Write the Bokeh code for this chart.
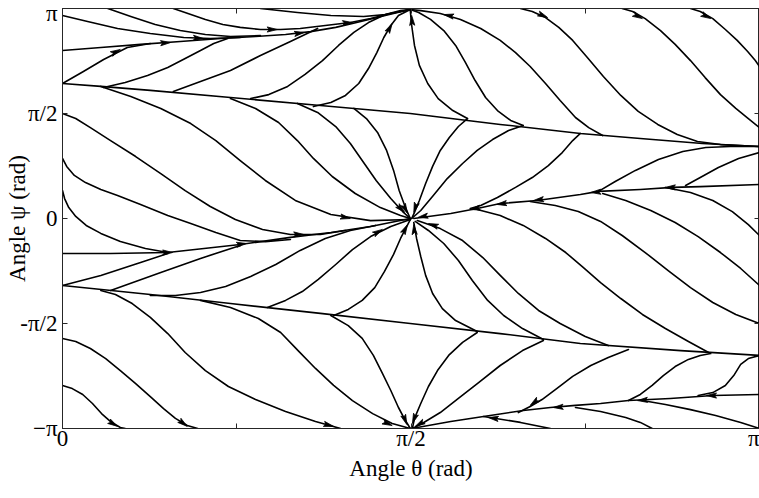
import numpy as np
from bokeh.plotting import figure
from bokeh.models import FixedTicker, LinearAxis, Range1d
from bokeh.embed import file_html
from bokeh.resources import INLINE

# Angles are stored in units of pi: theta/pi in [0, 1], psi/pi in [-1, 1]
x_tick_values = [0, 0.25, 0.5, 0.75, 1]
x_tick_labels = ["0", "", "π/2", "", "π"]
y_tick_values = [-1, -0.5, 0, 0.5, 1]
y_tick_labels = ["−π", "-π/2", "0", "π/2", "π"]

# ---- trajectories flowing into the sink at psi = +pi ----
t01_theta = [0, 0.055, 0.112, 0.169, 0.227, 0.277, 0.320, 0.356, 0.392, 0.428, 0.463, 0.499]
t01_psi = [0.800, 0.814, 0.829, 0.843, 0.857, 0.867, 0.876, 0.890, 0.910, 0.938, 0.967, 0.995]
t02_theta = [0, 0.030, 0.059, 0.093, 0.126]
t02_psi = [0.643, 0.700, 0.757, 0.814, 0.833]
t03_theta = [0, 0.036, 0.079, 0.126, 0.174, 0.212, 0.255]
t03_psi = [0.967, 0.938, 0.905, 0.881, 0.862, 0.857, 0.862]
t04_theta = [0.065, 0.098, 0.133, 0.169, 0.205, 0.241, 0.284]
t04_psi = [1.0, 0.962, 0.924, 0.895, 0.876, 0.867, 0.871]
t05_theta = [0.159, 0.180, 0.205, 0.230, 0.255, 0.284, 0.313, 0.341, 0.377, 0.413, 0.442, 0.471, 0.499]
t05_psi = [1.0, 0.976, 0.948, 0.924, 0.910, 0.900, 0.900, 0.905, 0.919, 0.933, 0.952, 0.976, 0.995]
t06_theta = [0.284, 0.337, 0.385, 0.432, 0.463, 0.485, 0.499]
t06_psi = [1.0, 0.981, 0.967, 0.962, 0.971, 0.986, 0.995]
t07_theta = [0.159, 0.198, 0.241, 0.284, 0.327, 0.366]
t07_psi = [0.605, 0.652, 0.705, 0.776, 0.843, 0.905]
t08_theta = [0.059, 0.090, 0.122, 0.151, 0.176, 0.198, 0.217, 0.237]
t08_psi = [0.624, 0.648, 0.681, 0.719, 0.762, 0.800, 0.833, 0.857]
t09_theta = [0.270, 0.296, 0.323, 0.348, 0.373, 0.396, 0.418, 0.439, 0.463, 0.485, 0.499]
t09_psi = [0.571, 0.590, 0.629, 0.686, 0.752, 0.824, 0.886, 0.933, 0.971, 0.990, 0.995]
t10_theta = [0.360, 0.385, 0.406, 0.425, 0.439, 0.451, 0.461, 0.471, 0.482, 0.499]
t10_psi = [0.533, 0.552, 0.586, 0.643, 0.714, 0.790, 0.862, 0.919, 0.967, 0.995]
t11_theta = [0.581, 0.560, 0.539, 0.524, 0.512, 0.505, 0.501, 0.499]
t11_psi = [0.476, 0.514, 0.571, 0.643, 0.729, 0.824, 0.919, 0.990]
t12_theta = [0.661, 0.643, 0.624, 0.607, 0.592, 0.578, 0.564, 0.547, 0.528, 0.511, 0.499]
t12_psi = [0.443, 0.467, 0.514, 0.576, 0.657, 0.743, 0.824, 0.895, 0.948, 0.981, 0.995]
t13_theta = [0.775, 0.755, 0.736, 0.714, 0.693, 0.671, 0.650, 0.628, 0.600, 0.571, 0.542, 0.514, 0.499]
t13_psi = [0.395, 0.433, 0.481, 0.562, 0.643, 0.724, 0.790, 0.848, 0.905, 0.948, 0.976, 0.990, 0.995]

# ---- trajectories entering through psi = pi and running down to theta = pi ----
t14_theta = [0.657, 0.674, 0.693, 0.712, 0.732, 0.753, 0.776, 0.801, 0.826, 0.854, 0.882, 0.911, 0.944, 1.0]
t14_psi = [1.0, 0.986, 0.957, 0.910, 0.848, 0.767, 0.676, 0.586, 0.510, 0.448, 0.400, 0.367, 0.352, 0.343]
t15_theta = [0.803, 0.818, 0.836, 0.858, 0.879, 0.901, 0.922, 0.944, 0.966, 0.984, 1.0]
t15_psi = [1.0, 0.986, 0.952, 0.895, 0.829, 0.752, 0.671, 0.590, 0.524, 0.476, 0.433]
t16_theta = [0.901, 0.915, 0.933, 0.951, 0.968, 0.983, 0.994, 1.0]
t16_psi = [1.0, 0.986, 0.952, 0.900, 0.848, 0.795, 0.752, 0.724]

# ---- upper separatrix ----
t17_theta = [0, 0.055, 0.126, 0.241, 0.370, 0.499, 0.628, 0.743, 0.829, 0.918, 1.0]
t17_psi = [0.643, 0.629, 0.610, 0.576, 0.538, 0.500, 0.448, 0.405, 0.381, 0.357, 0.343]

# ---- trajectories flowing into the central sink ----
t18_theta = [0.055, 0.098, 0.141, 0.184, 0.220, 0.255, 0.291, 0.334, 0.385, 0.442, 0.499]
t18_psi = [0.629, 0.581, 0.524, 0.452, 0.371, 0.276, 0.181, 0.086, 0.019, -0.010, -0.005]
t19_theta = [0, 0.019, 0.040, 0.069, 0.105, 0.141, 0.176, 0.212, 0.248, 0.287, 0.327, 0.370, 0.406]
t19_psi = [0.500, 0.476, 0.433, 0.371, 0.295, 0.214, 0.133, 0.057, -0.005, -0.052, -0.076, -0.076, -0.057]
t20_theta = [0, 0.006, 0.017, 0.033, 0.055, 0.079, 0.112, 0.151, 0.184, 0.220, 0.255, 0.291, 0.327]
t20_psi = [0.286, 0.248, 0.205, 0.171, 0.138, 0.110, 0.067, 0.014, -0.024, -0.067, -0.105, -0.110, -0.100]
t21_theta = [0, 0.003, 0.009, 0.019, 0.034, 0.055, 0.083, 0.119, 0.151]
t21_psi = [0.133, 0.095, 0.052, 0.010, -0.033, -0.071, -0.110, -0.143, -0.162]
t22_theta = [0, 0.069, 0.151, 0.255, 0.327, 0.385, 0.442, 0.499]
t22_psi = [-0.167, -0.167, -0.162, -0.124, -0.090, -0.067, -0.038, 0.0]
t23_theta = [0, 0.055, 0.112, 0.151]
t23_psi = [-0.319, -0.271, -0.210, -0.167]
t24_theta = [0.069, 0.141, 0.198, 0.255]
t24_psi = [-0.343, -0.257, -0.190, -0.129]
t25_theta = [0.126, 0.162, 0.198, 0.234, 0.270, 0.306, 0.341, 0.377, 0.413, 0.449]
t25_psi = [-0.367, -0.367, -0.352, -0.324, -0.276, -0.219, -0.152, -0.095, -0.057, -0.033]
t26_theta = [0.294, 0.320, 0.344, 0.367, 0.392, 0.416, 0.442, 0.471, 0.499]
t26_psi = [-0.424, -0.390, -0.348, -0.290, -0.219, -0.148, -0.086, -0.038, -0.005]
t27_theta = [0.389, 0.410, 0.430, 0.448, 0.462, 0.475, 0.485, 0.494, 0.499]
t27_psi = [-0.462, -0.433, -0.390, -0.329, -0.252, -0.171, -0.095, -0.038, -0.005]
t28_theta = [0.581, 0.568, 0.555, 0.542, 0.531, 0.521, 0.512, 0.505, 0.501]
t28_psi = [0.476, 0.438, 0.386, 0.324, 0.248, 0.167, 0.086, 0.029, 0.0]
t29_theta = [0.661, 0.640, 0.617, 0.595, 0.574, 0.552, 0.532, 0.514, 0.501]
t29_psi = [0.443, 0.419, 0.376, 0.324, 0.262, 0.190, 0.110, 0.038, 0.0]
t30_theta = [0.743, 0.732, 0.717, 0.697, 0.674, 0.650, 0.624, 0.600, 0.585]
t30_psi = [0.405, 0.371, 0.314, 0.252, 0.195, 0.148, 0.100, 0.062, 0.048]
t31_theta = [0.241, 0.277, 0.310, 0.337, 0.360, 0.387, 0.420, 0.456, 0.485, 0.499]
t31_psi = [0.571, 0.524, 0.457, 0.371, 0.286, 0.200, 0.119, 0.052, 0.014, 0.0]
t32_theta = [0.337, 0.366, 0.392, 0.413, 0.432, 0.450, 0.471, 0.488, 0.499]
t32_psi = [0.548, 0.505, 0.438, 0.357, 0.267, 0.181, 0.095, 0.033, 0.0]
t33_theta = [0.418, 0.436, 0.452, 0.465, 0.475, 0.483, 0.492, 0.499]
t33_psi = [0.524, 0.476, 0.410, 0.324, 0.229, 0.133, 0.052, 0.0]
t34_theta = [1.0, 0.915, 0.875, 0.829, 0.769, 0.743, 0.681, 0.628, 0.595, 0.557, 0.504]
t34_psi = [0.162, 0.152, 0.148, 0.138, 0.129, 0.114, 0.086, 0.071, 0.048, 0.024, 0.0]

# ---- trajectories on the theta = pi side ----
t35_theta = [0.769, 0.793, 0.822, 0.855, 0.890, 0.923, 0.958, 1.0]
t35_psi = [0.129, 0.176, 0.229, 0.281, 0.319, 0.338, 0.343, 0.343]
t36_theta = [0.894, 0.915, 0.941, 0.970, 1.0]
t36_psi = [0.157, 0.195, 0.243, 0.286, 0.314]
t37_theta = [0.595, 0.628, 0.661, 0.693, 0.722, 0.747, 0.772, 0.801, 0.832, 0.865, 0.898, 0.927]
t37_psi = [0.043, 0.014, -0.033, -0.095, -0.162, -0.233, -0.305, -0.381, -0.457, -0.524, -0.586, -0.638]
t38_theta = [0.671, 0.707, 0.740, 0.772, 0.803, 0.836, 0.869, 0.901, 0.933, 0.966, 1.0]
t38_psi = [0.081, 0.062, 0.033, -0.014, -0.081, -0.162, -0.248, -0.329, -0.400, -0.457, -0.500]
t39_theta = [0.775, 0.808, 0.844, 0.879, 0.912, 0.944, 0.973, 1.0]
t39_psi = [0.119, 0.086, 0.038, -0.019, -0.086, -0.162, -0.238, -0.319]
t40_theta = [0.865, 0.901, 0.933, 0.961, 0.984, 1.0]
t40_psi = [0.148, 0.124, 0.086, 0.033, -0.029, -0.081]

# ---- trajectories leaving the centre towards the lower separatrix ----
t41_theta = [0.504, 0.508, 0.514, 0.521, 0.531, 0.545, 0.564, 0.595]
t41_psi = [-0.019, -0.095, -0.181, -0.271, -0.357, -0.429, -0.486, -0.538]
t42_theta = [0.506, 0.525, 0.547, 0.568, 0.588, 0.610, 0.633, 0.660, 0.690]
t42_psi = [-0.014, -0.057, -0.119, -0.200, -0.295, -0.390, -0.462, -0.524, -0.576]
t43_theta = [0.509, 0.542, 0.574, 0.603, 0.628, 0.654, 0.683, 0.714, 0.750, 0.783]
t43_psi = [-0.010, -0.048, -0.105, -0.186, -0.271, -0.357, -0.438, -0.500, -0.562, -0.605]

# ---- trajectories flowing into the sink at psi = -pi ----
t44_theta = [0.595, 0.574, 0.554, 0.538, 0.525, 0.514, 0.505, 0.502]
t44_psi = [-0.543, -0.590, -0.652, -0.724, -0.800, -0.881, -0.952, -1.0]
t45_theta = [0.690, 0.660, 0.628, 0.597, 0.568, 0.542, 0.516, 0.502]
t45_psi = [-0.581, -0.629, -0.700, -0.781, -0.857, -0.924, -0.976, -1.0]
t46_theta = [0.812, 0.783, 0.758, 0.732, 0.709, 0.688, 0.671, 0.654]
t46_psi = [-0.624, -0.662, -0.700, -0.752, -0.810, -0.862, -0.895, -0.924]
t47_theta = [1.0, 0.933, 0.872, 0.812, 0.772, 0.736, 0.700, 0.661, 0.604, 0.557, 0.509, 0.499]
t47_psi = [-0.838, -0.843, -0.857, -0.867, -0.881, -0.890, -0.900, -0.914, -0.943, -0.967, -0.995, -1.0]
t48_theta = [0.700, 0.657, 0.604]
t48_psi = [-1.0, -0.971, -0.943]
t49_theta = [0.812, 0.829, 0.846, 0.862, 0.879, 0.898, 0.915, 0.930]
t49_psi = [-0.867, -0.838, -0.795, -0.748, -0.705, -0.671, -0.652, -0.643]
t50_theta = [0.912, 0.933, 0.951, 0.963, 0.973, 0.984, 1.0]
t50_psi = [-0.843, -0.829, -0.795, -0.748, -0.695, -0.667, -0.652]
t51_theta = [0.832, 0.865, 0.901, 0.937, 0.973, 1.0]
t51_psi = [-0.867, -0.886, -0.910, -0.938, -0.971, -1.0]
t52_theta = [0.736, 0.772, 0.808, 0.829, 0.846]
t52_psi = [-0.900, -0.919, -0.948, -0.971, -1.0]

# ---- lower separatrix ----
t53_theta = [0, 0.126, 0.241, 0.370, 0.499, 0.628, 0.743, 0.887, 1.0]
t53_psi = [-0.319, -0.362, -0.405, -0.452, -0.500, -0.548, -0.595, -0.629, -0.652]

# ---- trajectories leaving through psi = -pi ----
t54_theta = [0, 0.019, 0.040, 0.062, 0.083, 0.105, 0.126, 0.145, 0.162, 0.179, 0.194]
t54_psi = [-0.571, -0.586, -0.619, -0.667, -0.724, -0.786, -0.848, -0.905, -0.952, -0.986, -1.0]
t55_theta = [0, 0.014, 0.029, 0.043, 0.056, 0.069, 0.083, 0.090]
t55_psi = [-0.795, -0.810, -0.838, -0.881, -0.929, -0.967, -0.995, -1.0]
t56_theta = [0.055, 0.076, 0.100, 0.126, 0.151, 0.176, 0.205, 0.238, 0.277, 0.320, 0.363, 0.399]
t56_psi = [-0.343, -0.362, -0.405, -0.471, -0.548, -0.638, -0.724, -0.800, -0.862, -0.919, -0.967, -1.0]
t57_theta = [0.198, 0.241, 0.281, 0.313, 0.338, 0.363, 0.389, 0.416, 0.445, 0.473, 0.499]
t57_psi = [-0.390, -0.424, -0.476, -0.543, -0.629, -0.714, -0.795, -0.867, -0.929, -0.976, -1.0]
t58_theta = [0.385, 0.410, 0.430, 0.446, 0.459, 0.471, 0.482, 0.492, 0.499]
t58_psi = [-0.462, -0.510, -0.571, -0.652, -0.738, -0.819, -0.900, -0.962, -1.0]

# direction arrows: tail and tip of each arrow
arrow_tail_theta = [0.066, 0.133, 0.181, 0.287, 0.327, 0.396, 0.502, 0.568, 0.676, 0.812, 0.910,
                    0.133, 0.241, 0.324, 0.392, 0.439, 0.607, 0.643, 0.697, 0.779, 0.887,
                    0.164, 0.065, 0.367, 0.453, 0.488, 0.686, 0.725, 0.631, 0.846, 0.944,
                    0.488, 0.508, 0.479, 0.489, 0.505, 0.525, 0.542, 0.465, 0.508, 0.521]
arrow_tail_psi = [0.776, 0.833, 0.862, 0.900, 0.876, 0.929, 0.905, 0.957, 0.986, 0.986, 0.986,
                  -0.162, -0.129, -0.076, 0.014, -0.090, 0.057, 0.076, 0.095, 0.129, 0.148,
                  -0.952, -0.962, -0.971, -0.957, -0.929, -0.852, -0.895, -0.957, -0.862, -0.843,
                  0.071, 0.071, 0.067, -0.067, -0.067, 0.014, -0.043, 0.881, -0.924, -0.962]
arrow_tip_theta = [0.083, 0.155, 0.202, 0.308, 0.347, 0.416, 0.501, 0.547, 0.696, 0.832, 0.930,
                   0.158, 0.264, 0.346, 0.413, 0.459, 0.585, 0.623, 0.676, 0.758, 0.865,
                   0.179, 0.079, 0.389, 0.473, 0.494, 0.671, 0.704, 0.611, 0.825, 0.924,
                   0.495, 0.504, 0.491, 0.495, 0.504, 0.510, 0.525, 0.473, 0.502, 0.506]
arrow_tip_psi = [0.805, 0.838, 0.857, 0.900, 0.886, 0.933, 0.967, 0.971, 0.957, 0.952, 0.952,
                 -0.162, -0.119, -0.076, 0.0, -0.052, 0.043, 0.067, 0.086, 0.124, 0.148,
                 -0.990, -0.990, -0.990, -0.986, -0.981, -0.890, -0.900, -0.948, -0.867, -0.843,
                 0.024, 0.029, 0.029, -0.029, -0.029, 0.005, -0.024, 0.929, -0.976, -0.990]

trajectory_theta = [t01_theta, t02_theta, t03_theta, t04_theta, t05_theta, t06_theta, t07_theta,
                    t08_theta, t09_theta, t10_theta, t11_theta, t12_theta, t13_theta, t14_theta,
                    t15_theta, t16_theta, t17_theta, t18_theta, t19_theta, t20_theta, t21_theta,
                    t22_theta, t23_theta, t24_theta, t25_theta, t26_theta, t27_theta, t28_theta,
                    t29_theta, t30_theta, t31_theta, t32_theta, t33_theta, t34_theta, t35_theta,
                    t36_theta, t37_theta, t38_theta, t39_theta, t40_theta, t41_theta, t42_theta,
                    t43_theta, t44_theta, t45_theta, t46_theta, t47_theta, t48_theta, t49_theta,
                    t50_theta, t51_theta, t52_theta, t53_theta, t54_theta, t55_theta, t56_theta,
                    t57_theta, t58_theta]
trajectory_psi = [t01_psi, t02_psi, t03_psi, t04_psi, t05_psi, t06_psi, t07_psi,
                  t08_psi, t09_psi, t10_psi, t11_psi, t12_psi, t13_psi, t14_psi,
                  t15_psi, t16_psi, t17_psi, t18_psi, t19_psi, t20_psi, t21_psi,
                  t22_psi, t23_psi, t24_psi, t25_psi, t26_psi, t27_psi, t28_psi,
                  t29_psi, t30_psi, t31_psi, t32_psi, t33_psi, t34_psi, t35_psi,
                  t36_psi, t37_psi, t38_psi, t39_psi, t40_psi, t41_psi, t42_psi,
                  t43_psi, t44_psi, t45_psi, t46_psi, t47_psi, t48_psi, t49_psi,
                  t50_psi, t51_psi, t52_psi, t53_psi, t54_psi, t55_psi, t56_psi,
                  t57_psi, t58_psi]

FONT = "Liberation Serif"
AXIS_COLOR = "#262626"
WIDTH, HEIGHT = 759, 498
BORDER_L, BORDER_R, BORDER_T, BORDER_B = 62, 0, 8, 70

p = figure(width=WIDTH, height=HEIGHT, x_range=Range1d(0, 1), y_range=Range1d(-1, 1),
           output_backend="svg", toolbar_location=None,
           min_border_left=BORDER_L, min_border_right=BORDER_R,
           min_border_top=BORDER_T, min_border_bottom=BORDER_B)
p.grid.visible = False
p.outline_line_color = AXIS_COLOR
p.background_fill_color = "white"
p.border_fill_color = "white"

p.multi_line(trajectory_theta, trajectory_psi, line_color="black", line_width=1.6,
             line_join="round", line_cap="round")

# slim arrowheads, sized in screen pixels
px_per_theta = (WIDTH - BORDER_L - BORDER_R) / 1.0
px_per_psi = (HEIGHT - BORDER_T - BORDER_B) / 2.0
head_len, head_half = 10.0, 2.6
xs, ys = [], []
for tx0, ty0, tx1, ty1 in zip(arrow_tail_theta, arrow_tail_psi, arrow_tip_theta, arrow_tip_psi):
    dx = (tx1 - tx0) * px_per_theta
    dy = (ty1 - ty0) * px_per_psi
    n = np.hypot(dx, dy)
    ux, uy = dx / n, dy / n
    bx, by = -ux * head_len, -uy * head_len
    corners = [(0, 0), (bx - uy * head_half, by + ux * head_half),
               (bx * 0.8, by * 0.8), (bx + uy * head_half, by - ux * head_half)]
    xs.append([tx1 + cx / px_per_theta for cx, _ in corners])
    ys.append([ty1 + cy / px_per_psi for _, cy in corners])
p.patches(xs, ys, fill_color="black", line_color="black", line_width=0.8)

def style_axis(ax, ticks, labels, show_labels):
    ax.ticker = FixedTicker(ticks=ticks)
    ax.major_label_overrides = {v: l for v, l in zip(ticks, labels)}
    ax.minor_tick_line_color = None
    ax.major_tick_in = 5
    ax.major_tick_out = 0
    ax.axis_line_color = AXIS_COLOR
    ax.major_tick_line_color = AXIS_COLOR
    ax.major_label_text_font = FONT
    ax.major_label_text_color = "black"
    if show_labels:
        ax.major_label_text_font_size = "23px"
    else:
        ax.major_label_text_font_size = "0px"
        ax.major_label_standoff = 0

style_axis(p.xaxis[0], x_tick_values, x_tick_labels, True)
style_axis(p.yaxis[0], y_tick_values, y_tick_labels, True)
p.xaxis[0].major_label_standoff = -3
p.yaxis[0].major_label_standoff = 5
for ax in (p.xaxis[0], p.yaxis[0]):
    ax.axis_label_text_font = FONT
    ax.axis_label_text_font_size = "23px"
    ax.axis_label_text_font_style = "normal"
    ax.axis_label_text_color = "black"
p.xaxis[0].axis_label_standoff = 2
p.yaxis[0].axis_label_standoff = -13
p.xaxis[0].axis_label = "Angle θ (rad)"
p.yaxis[0].axis_label = "Angle ψ (rad)"

top_axis = LinearAxis()
style_axis(top_axis, x_tick_values, [""] * 5, False)
p.add_layout(top_axis, "above")
right_axis = LinearAxis()
style_axis(right_axis, y_tick_values, [""] * 5, False)
p.add_layout(right_axis, "right")

open("out.html", "w").write(file_html(p, INLINE))
